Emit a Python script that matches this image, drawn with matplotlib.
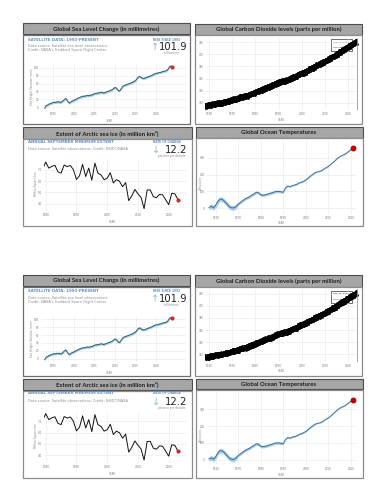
import numpy as np
import matplotlib.pyplot as plt
from matplotlib.patches import Rectangle

# ---- data ----
sea_start = 1993.0
sea_mm = [-2, 3, 5, 6, 8, 9, 10, 11, 12, 13, 12, 13, 14, 13, 14, 12,
          13, 15, 17, 20, 22, 20, 16, 12, 11, 13, 15, 16, 17, 19, 20, 21,
          23, 24, 25, 26, 27, 28, 28, 28, 29, 30, 29, 30, 30, 31, 31, 33,
          34, 35, 35, 36, 36, 37, 37, 38, 37, 36, 37, 38, 39, 40, 41, 42,
          43, 44, 46, 48, 50, 49, 46, 43, 41, 43, 47, 51, 54, 55, 56, 57,
          58, 59, 60, 61, 62, 63, 65, 66, 68, 71, 75, 77, 78, 76, 74, 73,
          73, 74, 75, 76, 77, 78, 79, 80, 81, 83, 84, 85, 86, 86, 87, 88,
          88, 89, 90, 91, 91, 92, 93, 95, 99, 103, 104, 101.9]

co2_years = list(range(1958, 2024))
co2_annual = [315.2, 316.0, 316.9, 317.6, 318.5, 319.0, 319.6, 320.0, 321.4, 322.2,
              323.1, 324.6, 325.7, 326.3, 327.5, 329.7, 330.2, 331.1, 332.0, 333.8,
              335.4, 336.8, 338.8, 340.1, 341.5, 343.2, 344.9, 346.4, 347.6, 349.3,
              351.7, 353.2, 354.5, 355.7, 356.5, 357.2, 359.0, 361.0, 362.7, 363.9,
              366.8, 368.5, 369.7, 371.3, 373.5, 376.0, 377.7, 380.0, 382.1, 384.0,
              385.8, 387.6, 390.1, 391.9, 394.1, 396.7, 398.8, 401.0, 404.4, 406.8,
              408.7, 411.7, 414.2, 416.5, 418.6, 421.1]
co2_season = [-0.2, 0.6, 1.3, 2.5, 3.0, 2.3, 0.8, -1.4, -3.2, -3.4, -2.1, -0.9]

ice_years = list(range(1979, 2024))
ice_extent = [7.05, 7.67, 7.14, 7.30, 7.39, 6.81, 6.70, 7.41, 7.28, 7.37,
              7.01, 6.14, 6.47, 7.47, 6.40, 7.14, 6.08, 7.58, 6.69, 6.54,
              6.12, 6.25, 6.73, 5.83, 6.12, 5.98, 5.50, 5.86, 4.27, 4.69,
              5.26, 4.87, 4.56, 3.57, 5.21, 5.22, 4.62, 4.53, 4.82, 4.79,
              4.36, 3.92, 4.92, 4.87, 4.37]

ocean_years = list(range(1957, 2022))
ocean_zj = [5, 12, 3, 18, 42, 55, 52, 40, 25, 10, 3, 2, 10,
            25, 35, 45, 55, 62, 68, 78, 85, 95, 92,
            80, 78, 80, 84, 88, 92, 97, 100, 100, 98,
            95, 120, 132, 128, 135, 138, 142, 150, 155, 160,
            168, 178, 190, 200, 210, 215, 218, 222, 232, 240,
            248, 258, 270, 282, 295, 305, 312, 318, 326, 336, 346, 356]
ocean_err = [14] * 13 + [8] * 20 + [4] * 15 + [2] * 17

W, H = 386, 500
fig = plt.figure(figsize=(W / 100, H / 100), dpi=100)
bg = fig.add_axes([0, 0, 1, 1])
bg.set_xlim(0, W)
bg.set_ylim(H, 0)
bg.axis('off')

BLUE = '#5b8fc7'
GRAY = '#8a8a8a'


def frame(x0, y0, x1, y1, fc='white', ec='#8c8c8c', lw=0.9):
    bg.add_patch(Rectangle((x0, y0), x1 - x0, y1 - y0, facecolor=fc,
                           edgecolor=ec, lw=lw))


def header(x0, y0, x1, y1, title):
    frame(x0, y0, x1, y1, fc='#a6a6a6', ec='#4d4d4d', lw=0.8)
    bg.text((x0 + x1) / 2, (y0 + y1) / 2 + 0.3, title, ha='center', va='center',
            fontsize=4.3, family='Lato', weight='bold', color='#1e1e1e')


def chart(x0, y0, x1, y1, xref, yref):
    ax = fig.add_axes([x0 / W, 1 - y1 / H, (x1 - x0) / W, (y1 - y0) / H])
    (va, pa), (vb, pb) = xref
    k = (vb - va) / (pb - pa)
    ax.set_xlim(va + (x0 - pa) * k, va + (x1 - pa) * k)
    (va, pa), (vb, pb) = yref
    k = (vb - va) / (pb - pa)
    ax.set_ylim(va + (y1 - pa) * k, va + (y0 - pa) * k)
    ax.patch.set_alpha(0)
    for s in ax.spines.values():
        s.set_visible(False)
    ax.tick_params(length=0, labelsize=2, colors='#777777', pad=1.5)
    ax.grid(color='#e6e6e6', lw=0.4)
    ax.set_axisbelow(True)
    return ax


def small(x, y, s, **kw):
    kw.setdefault('fontsize', 2.5)
    kw.setdefault('color', GRAY)
    bg.text(x, y, s, va='center', **kw)


sea_t = sea_start + np.arange(len(sea_mm)) * 0.25
sea_v = np.array(sea_mm)

co2_t, co2_v = [], []
for yr, mean in zip(co2_years, co2_annual):
    for m, off in enumerate(co2_season):
        t = yr + (m + 0.5) / 12
        if 1958.2 <= t <= 2023.75:
            co2_t.append(t)
            co2_v.append(mean + off)

ocean_v = np.array(ocean_zj)
ocean_e = np.array(ocean_err)

for dy in [0, 251.5]:
    # --- sea level ---
    header(23, 23 + dy, 190, 34 + dy, 'Global Sea Level Change (in millimetres)')
    frame(23, 35 + dy, 190, 124 + dy, ec='#6e6e6e')
    small(28, 39.7 + dy, 'SATELLITE DATA: 1993-PRESENT', color=BLUE, fontsize=2.8, weight='bold')
    small(28, 46.3 + dy, 'Data source: Satellite sea level observations.')
    small(28, 50.3 + dy, "Credit: NASA's Goddard Space Flight Center")
    small(180, 39.7 + dy, 'RISE SINCE 1993', color=BLUE, fontsize=2.1, ha='right', weight='bold')
    small(155, 47.5 + dy, '\u2191', color='#8fb8d8', fontsize=7, ha='center')
    small(187, 47.5 + dy, '101.9', color='#222222', fontsize=7.2, ha='right')
    small(180, 53 + dy, 'millimeters', fontsize=2.1, ha='right')
    small(32, 87 + dy, 'Sea Height Variation (mm)', fontsize=2, rotation=90, ha='center')
    small(110, 121 + dy, 'YEAR', fontsize=2, ha='center')
    ax = chart(41, 64 + dy, 186, 110 + dy, ((1995, 53), (2020, 156.3)),
               ((100, 67.7 + dy), (0, 107.3 + dy)))
    ax.fill_between(sea_t, sea_v - 3, sea_v + 3, color='#a9cfe0', lw=0)
    ax.plot(sea_t, sea_v, color='#2f5f73', lw=0.7)
    ax.plot(sea_t[-1], sea_v[-1], 'o', color='#d62728', ms=2)
    ax.set_xticks([1995, 2000, 2005, 2010, 2015, 2020])
    ax.set_yticks([0, 20, 40, 60, 80, 100])

    # --- carbon dioxide ---
    header(194.5, 23.5 + dy, 362, 35 + dy, 'Global Carbon Dioxide levels (parts per million)')
    frame(194.5, 35 + dy, 362, 124 + dy)
    small(196.3, 73 + dy, 'CO2 parts per million (ppm)', fontsize=1.5, rotation=90, ha='center')
    small(282, 120 + dy, 'YEAR', fontsize=2, ha='center')
    ax = chart(205, 37.5 + dy, 358, 110 + dy, ((1960, 209), (2020, 348)),
               ((420, 42.3 + dy), (320, 102.7 + dy)))
    ax.tick_params(axis='y', pad=0.8, labelsize=1.8)
    ax.plot(co2_t, co2_v, color='black', lw=0.75, marker='o', ms=1.0)
    ax.axvline(co2_t[-1], color='#9a9a9a', lw=0.6)
    ax.set_xticks(range(1960, 2030, 10))
    ax.set_yticks(range(320, 440, 20))
    frame(331.3, 39 + dy, 352.3, 51 + dy, ec='#333333', lw=0.5)
    small(333, 42.5 + dy, 'Sep 16, 2023', fontsize=1.7, color='#222222')
    small(333, 47.5 + dy, '420.53 ppm', fontsize=1.7, color='#222222')

    # --- arctic sea ice ---
    header(23, 127 + dy, 192, 138.5 + dy, 'Extent of Arctic sea ice (in million km\u00b2)')
    frame(23, 139 + dy, 192, 226 + dy)
    small(28, 141.7 + dy, 'ANNUAL SEPTEMBER MINIMUM EXTENT', color=BLUE, fontsize=2.8, weight='bold')
    small(28, 149.3 + dy, 'Data source: Satellite observations. Credit: NSIDC/NASA')
    small(181, 141.7 + dy, 'RATE OF CHANGE', color=BLUE, fontsize=2.1, ha='right', weight='bold')
    small(156, 150.3 + dy, '\u2193', color='#8fb8d8', fontsize=7, ha='center')
    small(187, 150.3 + dy, '12.2', color='#222222', fontsize=7.2, ha='right')
    small(186, 156 + dy, 'percent per decade', fontsize=2.1, ha='right')
    small(36, 184 + dy, 'Million Square km', fontsize=2, rotation=90, ha='center')
    small(113, 222.3 + dy, 'YEAR', fontsize=2, ha='center')
    ax = chart(44, 160 + dy, 186, 211 + dy, ((1980, 45.7), (2020, 168.7)),
               ((7.0, 169.7 + dy), (4.0, 203.7 + dy)))
    ax.plot(ice_years, ice_extent, color='#111111', lw=0.7)
    ax.plot(ice_years[-1], ice_extent[-1], 'o', color='#d62728', ms=2)
    ax.set_xticks(range(1980, 2030, 10))
    ax.set_yticks([4.0, 5.0, 6.0, 7.0])
    ax.set_yticklabels(['4.0', '5.0', '6.0', '7.0'])

    # --- ocean temperatures ---
    header(195.5, 127 + dy, 362.5, 137.5 + dy, 'Global Ocean Temperatures')
    frame(195.5, 138 + dy, 362.5, 226 + dy)
    small(200.7, 183 + dy, 'Zettajoules', fontsize=1.8, rotation=90, ha='center')
    small(282, 223 + dy, 'YEAR', fontsize=2, ha='center')
    ax = chart(207, 140 + dy, 357, 213.5 + dy, ((1960, 215.7), (2020, 350.7)),
               ((300, 157.7 + dy), (0, 208.3 + dy)))
    ax.fill_between(ocean_years, ocean_v - ocean_e, ocean_v + ocean_e,
                    color='#a8cdea', lw=0)
    ax.plot(ocean_years, ocean_v, color='#3d6f9a', lw=0.7)
    ax.plot(ocean_years[-1], ocean_v[-1], 'o', color='#c00000', ms=3.2)
    ax.set_xticks(range(1960, 2030, 10))
    ax.set_yticks([0, 100, 200, 300])

fig.savefig('out.png', dpi=100)
